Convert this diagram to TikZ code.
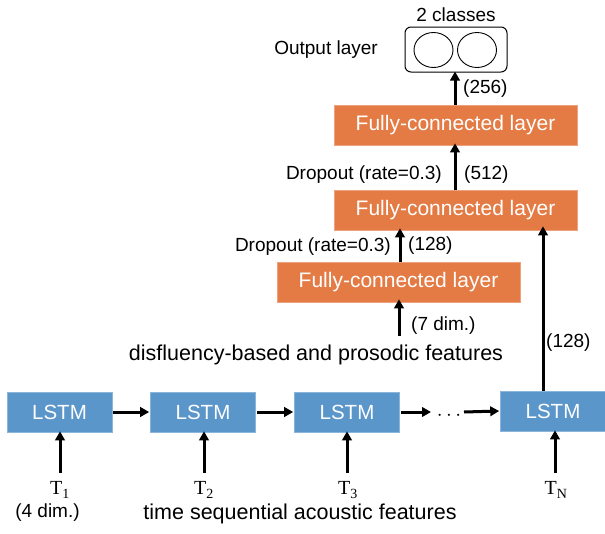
\documentclass[tikz,border=0pt]{standalone}
\usepackage{fontspec}
\setmainfont{Liberation Sans}
\newfontfamily\timesf{Liberation Serif}
\usetikzlibrary{arrows.meta,shapes.geometric}
\definecolor{fcorange}{HTML}{E47B45}
\definecolor{lstmblue}{HTML}{5A96CA}
\begin{document}
\begin{tikzpicture}[x=1pt,y=-1pt,
  fcbox/.style={fill=fcorange,draw=fcorange!70!white,line width=0.6pt,minimum width=243pt,minimum height=40pt,text=white,font=\fontsize{21}{24}\selectfont,inner sep=0pt},
  lstmbox/.style={fill=lstmblue,draw=lstmblue!70!white,line width=0.6pt,minimum width=105pt,minimum height=40pt,text=white,font=\fontsize{20.5}{24}\selectfont,inner sep=0pt},
  lbl/.style={font=\fontsize{19}{22}\selectfont,inner sep=0pt},
  big/.style={font=\fontsize{21.5}{24}\selectfont,inner sep=0pt},
  tlbl/.style={font=\timesf\fontsize{20}{24}\selectfont,inner sep=0pt},
  arr/.style={line width=3pt,-{Triangle[length=9pt,width=9.5pt]}},
  neuron/.style={draw,line width=0.9pt,ellipse,minimum width=39pt,minimum height=35pt,inner sep=0pt}
]
\useasboundingbox (0,0) rectangle (605,533);
% helper coordinates for vertical arrow positions
\coordinate (x543) at (543,0);
\coordinate (x400) at (400,0);
\coordinate (x455) at (455,0);
% output layer
\node[draw,line width=1pt,rounded corners=6pt,minimum width=102pt,minimum height=45pt,inner sep=0pt] (out) at (456,49.5) {};
\node[neuron] (n1) at (433.5,50) {};
\node[neuron] (n2) at (477,50) {};
\node[lbl] (cls) at (456,15) {2 classes};
\node[lbl] (outl) at (326,50) {Output layer};
% FC layers
\node[fcbox] (fc3) at (455.5,125) {Fully-connected layer};
\node[fcbox] (fc2) at (455.5,210) {Fully-connected layer};
\node[fcbox] (fc1) at (398.5,282) {Fully-connected layer};
% LSTMs
\node[lstmbox] (l1) at (59.5,412) {LSTM};
\node[lstmbox] (l2) at (203,412) {LSTM};
\node[lstmbox] (l3) at (347,412) {LSTM};
\node[lstmbox] (l4) at (553,411) {LSTM};
\node[inner sep=0pt,font=\fontsize{22}{24}\selectfont] (dots) at (449,416) {$\cdots$};
% input labels
\node[tlbl] (t1) at (60,490) {T\textsubscript{1}};
\node[tlbl] (t2) at (204,490) {T\textsubscript{2}};
\node[tlbl] (t3) at (348,490) {T\textsubscript{3}};
\node[tlbl] (tn) at (556,490) {T\textsubscript{N}};
\node[lbl] (dim4) at (47.5,513) {(4 dim.)};
\node[big] (tsaf) at (300,514) {time sequential acoustic features};
\node[big] (dpf) at (316,355) {disfluency-based and prosodic features};
% coordinates for arrow tails
\coordinate (a1) at (60,473);
\coordinate (a2) at (204,473);
\coordinate (a3) at (347,473);
\coordinate (a4) at (555,473);
\coordinate (af) at (399,336);
\coordinate (d1) at (431,412);
\coordinate (d2) at (464,412);
% arrows
\draw[arr] (a1) -- ([yshift=1pt]l1.south -| a1);
\draw[arr] (a2) -- ([yshift=1pt]l2.south -| a2);
\draw[arr] (a3) -- ([yshift=1pt]l3.south -| a3);
\draw[arr] (a4) -- ([yshift=1pt]l4.south -| a4);
\draw[arr] ([xshift=1pt]l1.east) -- ([xshift=-1pt]l2.west);
\draw[arr] ([xshift=1pt]l2.east) -- ([xshift=-1pt]l3.west);
\draw[arr] ([xshift=1pt]l3.east) -- (d1);
\draw[arr] (d2) -- ([xshift=-1pt]l4.west);
\draw[arr] (l4.north -| x543) -- ([yshift=4pt]fc2.south -| x543);
\draw[arr] (af) -- ([yshift=3pt]fc1.south -| af);
\draw[arr] (fc1.north -| x400) -- ([yshift=2pt]fc2.south -| x400);
\draw[arr] (fc2.north -| x455) -- ([yshift=2pt]fc3.south -| x455);
\draw[arr] (fc3.north -| x455) -- ([yshift=1pt]out.south -| x455);
% arrow labels
\node[lbl,anchor=west] (d7) at (411,326) {(7 dim.)};
\node[lbl,anchor=west] (c128a) at (546,343) {(128)};
\node[lbl,anchor=west] (c128b) at (408,246) {(128)};
\node[lbl,anchor=east] (dr1) at (391,247) {Dropout (rate=0.3)};
\node[lbl,anchor=west] (c512) at (464,175) {(512)};
\node[lbl,anchor=east] (dr2) at (442,175) {Dropout (rate=0.3)};
\node[lbl,anchor=west] (c256) at (463,89) {(256)};
\end{tikzpicture}
\end{document}
